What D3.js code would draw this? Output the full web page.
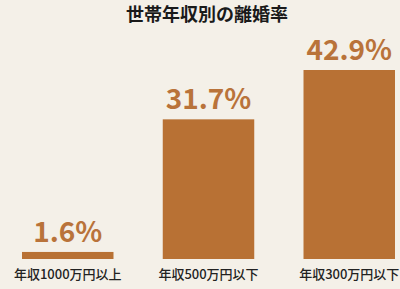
<!DOCTYPE html>
<html>
<head>
<meta charset="utf-8">
<script src="https://cdn.jsdelivr.net/npm/d3@7/dist/d3.min.js"></script>
<style>
  html, body { margin: 0; padding: 0; background: #f4f0e8; }
  svg { display: block; }
</style>
</head>
<body>
<div id="chart"></div>
<script>
// データ
const categories = ['年収1000万円以上', '年収500万円以下', '年収300万円以下'];
const values = [1.6, 31.7, 42.9];
const title = '世帯年収別の離婚率';

const width = 400, height = 289;
const baseY = 259;
const barColor = '#b87134';
const labelColor = '#b9733a';
const jpFont = '"Noto Sans CJK JP", "Noto Sans", sans-serif';

const svg = d3.select('#chart').append('svg')
  .attr('width', width)
  .attr('height', height);

svg.append('rect')
  .attr('width', width)
  .attr('height', height)
  .attr('fill', '#f4f0e8');

// タイトル
svg.append('text')
  .attr('x', 207)
  .attr('y', 21)
  .attr('text-anchor', 'middle')
  .style('font-family', jpFont)
  .style('font-weight', 700)
  .style('font-size', '18px')
  .style('fill', '#1a1a1a')
  .text(title);

const x = d3.scaleBand()
  .domain(categories)
  .range([22, 395])
  .paddingInner(0.35)
  .paddingOuter(0);

const y = d3.scaleLinear()
  .domain([0, 42.9])
  .range([baseY, 70]);

const g = svg.append('g');

g.selectAll('rect.bar')
  .data(values)
  .enter()
  .append('rect')
  .attr('class', 'bar')
  .attr('x', (d, i) => x(categories[i]))
  .attr('y', d => y(d))
  .attr('width', x.bandwidth())
  .attr('height', d => baseY - y(d))
  .attr('fill', barColor);

// 値ラベル
g.selectAll('text.value')
  .data(values)
  .enter()
  .append('text')
  .attr('class', 'value')
  .attr('x', (d, i) => x(categories[i]) + x.bandwidth() / 2)
  .attr('y', d => y(d) - 10)
  .attr('text-anchor', 'middle')
  .style('font-family', jpFont)
  .style('font-weight', 700)
  .style('font-size', '28px')
  .style('fill', labelColor)
  .text(d => d.toFixed(1) + '%');

// カテゴリラベル
g.selectAll('text.cat')
  .data(categories)
  .enter()
  .append('text')
  .attr('class', 'cat')
  .attr('x', d => x(d) + x.bandwidth() / 2)
  .attr('y', 279)
  .attr('text-anchor', 'middle')
  .style('font-family', jpFont)
  .style('font-weight', 500)
  .style('font-size', '13px')
  .style('fill', '#222')
  .text(d => d);
</script>
</body>
</html>
